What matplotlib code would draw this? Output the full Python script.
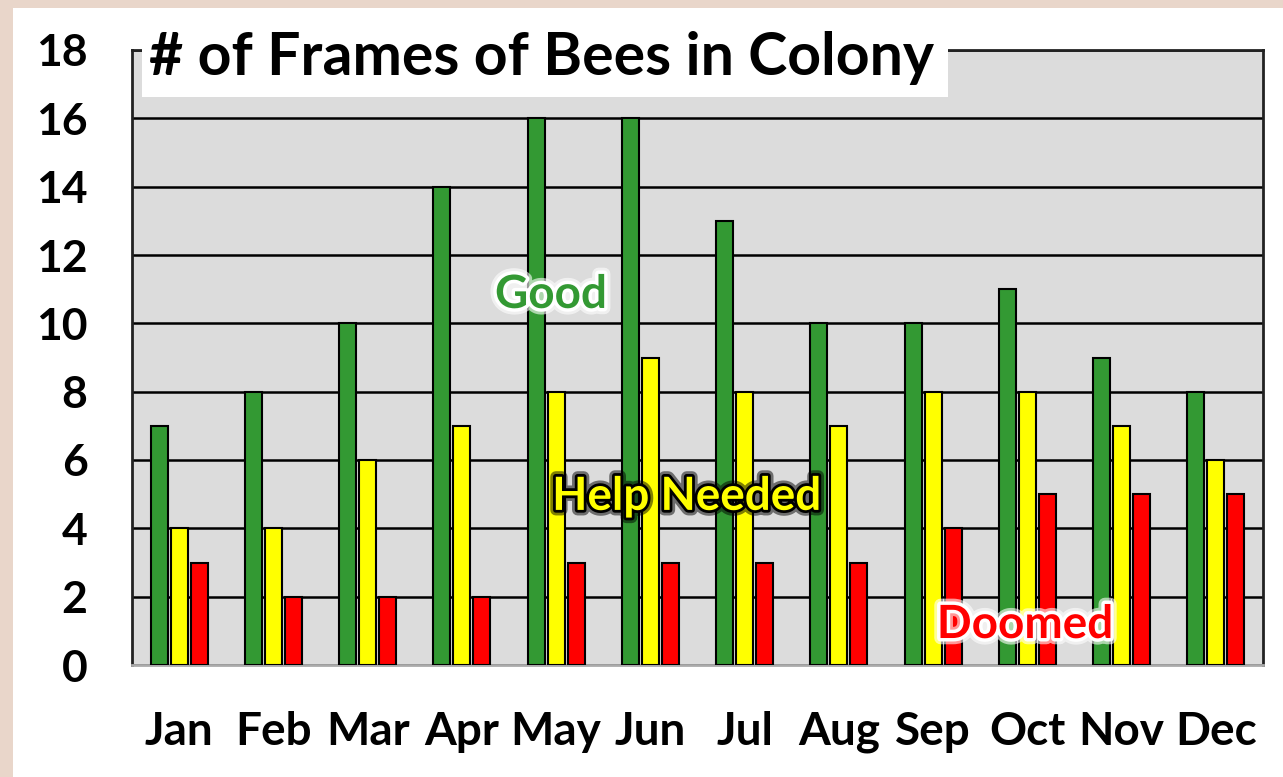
import matplotlib
matplotlib.use("Agg")
import matplotlib.pyplot as plt
import matplotlib.patheffects as pe
from matplotlib.patches import Rectangle
import numpy as np

months = ["Jan", "Feb", "Mar", "Apr", "May", "Jun", "Jul", "Aug", "Sep", "Oct", "Nov", "Dec"]
good = [7, 8, 10, 14, 16, 16, 13, 10, 10, 11, 9, 8]
help_needed = [4, 4, 6, 7, 8, 9, 8, 7, 8, 8, 7, 6]
doomed = [3, 2, 2, 2, 3, 3, 3, 3, 4, 5, 5, 5]
yticks = list(range(0, 19, 2))

FONT = ["Lato", "DejaVu Sans"]
plt.rcParams['font.family'] = FONT

fig = plt.figure(figsize=(12.83, 7.77), dpi=100, facecolor="#e9d6ca")
bg = Rectangle((13/1283, 0), 1 - 13/1283, 1 - 8/777, transform=fig.transFigure,
               facecolor="white", edgecolor="none", zorder=-10)
fig.add_artist(bg)
ax = fig.add_axes([132/1283, 112/777, 1131/1283, 615/777])
ax.set_zorder(1)
ax.set_facecolor("#dcdcdc")

x = np.arange(len(months))
w = 0.18
off = 0.213
ax.bar(x - off, good, w, color="#339933", edgecolor="black", linewidth=1.5, zorder=3)
ax.bar(x, help_needed, w, color="#ffff00", edgecolor="black", linewidth=1.5, zorder=3)
ax.bar(x + off, doomed, w, color="#ff0000", edgecolor="black", linewidth=1.5, zorder=3)

ax.set_xlim(-0.5, 11.5)
ax.set_ylim(0, 18)
ax.set_yticks(yticks)
ax.set_yticklabels([str(v) for v in yticks], fontsize=32, fontweight="bold")
ax.set_xticks(x)
ax.set_xticklabels(months, fontsize=33, fontweight="bold")
ax.tick_params(axis="y", length=0, pad=32)
ax.tick_params(axis="x", length=0, pad=33)
ax.yaxis.grid(True, color="black", linewidth=1.8, zorder=1)
ax.set_axisbelow(True)
for s in ["left", "top", "right"]:
    ax.spines[s].set_color("#222222")
    ax.spines[s].set_linewidth(2)
ax.spines["bottom"].set_color("#aaaaaa")
ax.spines["bottom"].set_linewidth(2)

# Title box
tb = Rectangle((10/1131, 568/615), (948-142)/1131, 60/615, transform=ax.transAxes,
               facecolor="white", edgecolor="none", clip_on=False, zorder=5)
ax.add_patch(tb)
ax.text(17/1131, 1 - 25/615, "# of Frames of Bees in Colony", transform=ax.transAxes,
        fontsize=42.5, fontweight="bold", ha="left", va="baseline", zorder=6)

ax.text(3.945, 10.83, "Good", color="#339933", fontsize=33, fontweight="bold", ha="center", va="center",
        zorder=7, path_effects=[pe.withStroke(linewidth=9, foreground="white", alpha=0.6),
                                pe.withStroke(linewidth=5, foreground="white")])
ax.text(5.39, 4.92, "Help Needed", color="#ffff00", fontsize=33, fontweight="bold", ha="center", va="center",
        zorder=7, path_effects=[pe.withStroke(linewidth=8, foreground="black", alpha=0.5),
                                pe.withStroke(linewidth=4, foreground="black")])
ax.text(8.975, 1.17, "Doomed", color="#ff0000", fontsize=33, fontweight="bold", ha="center", va="center",
        zorder=7, path_effects=[pe.withStroke(linewidth=9, foreground="white", alpha=0.6),
                                pe.withStroke(linewidth=5, foreground="white")])

fig.savefig("out.png", dpi=100, facecolor=fig.get_facecolor())
